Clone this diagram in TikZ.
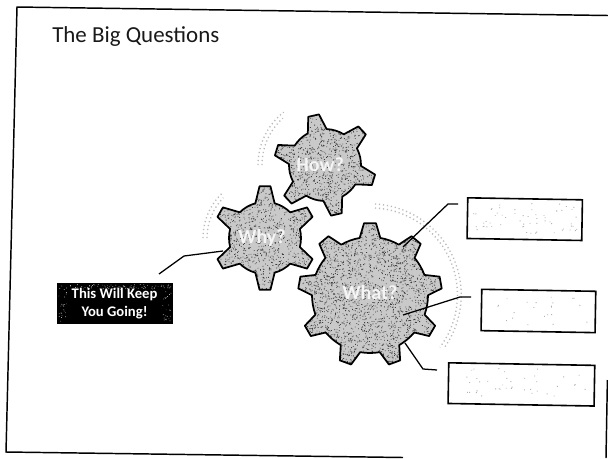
\documentclass[tikz,border=0pt]{standalone}
\usepackage{fontspec}
\setmainfont{Carlito}
\tikzset{
  x=0.75pt,y=-0.75pt,
  geartext/.style={text=white!92!gray,font=\bfseries\fontsize{15}{16}\selectfont,inner sep=0pt},
  halo/.style={draw=gray!55,line width=1pt,dash pattern=on 0.9pt off 2.1pt},
  link/.style={draw=black,line width=0.95pt,line join=round},
  emptybox/.style={draw=black,line width=1.2pt,fill=white,inner sep=0pt,anchor=north west,rotate=-1},
  blackbox/.style={draw=black,fill=black,text=white,inner sep=0pt,anchor=north west,align=center,font=\bfseries\fontsize{11}{13.5}\selectfont},
  frameline/.style={draw=black,line width=1.1pt,line join=miter},
}
\pgfmathsetseed{4242}
% #1 cx, #2 cy, #3 outer, #4 root, #5 teeth, #6 first angle, #7 tip half-width, #8 number of specks
\newcommand{\gearoutline}[8]{%
  \pgfmathsetmacro{\gstep}{360/#5}%
  \pgfmathsetmacro{\gtipa}{atan(#7/#3)}%
  \pgfmathsetmacro{\gbasea}{atan((#7+4.5)/#4)}%
  \pgfmathtruncatemacro{\glast}{#5-1}%
  \gdef\gearp{}%
  \foreach \gi in {0,...,\glast}{%
    \pgfmathsetmacro{\ga}{#6+\gi*\gstep}%
    \pgfmathsetmacro{\gnext}{\ga+\gstep}%
    \pgfmathsetmacro{\gb}{\ga-\gbasea}\pgfmathsetmacro{\gc}{\ga-\gtipa}%
    \pgfmathsetmacro{\gd}{\ga+\gtipa}\pgfmathsetmacro{\ge}{\ga+\gbasea}%
    \pgfmathsetmacro{\gf}{\gnext-\gbasea}%
    \xdef\gearp{\gearp
      \ifnum\gi>0 -- \else\fi ({#1+#4*cos(\gb)},{#2-#4*sin(\gb)})
      -- ({#1+#3*cos(\gc)},{#2-#3*sin(\gc)})
      -- ({#1+#3*cos(\gd)},{#2-#3*sin(\gd)})
      -- ({#1+#4*cos(\ge)},{#2-#4*sin(\ge)})
      arc[start angle=-\ge,end angle=-\gf,radius=#4]}%
  }%
  \begin{scope}
    \clip \gearp -- cycle;
    \fill[gray!42] (#1-#3,#2-#3) rectangle (#1+#3,#2+#3);
    \fill[black!75] foreach \gk in {1,...,#8}
      {({#1-#3+2*#3*rnd},{#2-#3+2*#3*rnd}) rectangle ++(0.8,0.8)};
  \end{scope}
  \path[draw=black,line width=1.3pt,line join=round] \gearp -- cycle;
}
% #1 x0 #2 y0 #3 w #4 h #5 count: faint specks inside a box
\newcommand{\specks}[5]{%
  \fill[gray!60] foreach \gk in {1,...,#5}
    {({#1+#3*rnd},{#2+#4*rnd}) rectangle ++(0.9,0.9)};
}
\begin{document}
\begin{tikzpicture}
\useasboundingbox (0,0) rectangle (608,458);
\fill[white] (0,0) rectangle (608,458);
% slide frame (scanned slightly askew)
\coordinate (ftr) at (608,15.5);
\coordinate (ftl) at (17,7);
\coordinate (fbl) at (6,452);
\coordinate (fbr) at (403,457.5);
\coordinate (frt) at (607.4,380);
\coordinate (frb) at (606,458);
\draw[frameline] (ftr) -- (ftl) -- (fbl) -- (fbr);
\draw[frameline] (frt) -- (frb);
\node[anchor=base west,inner sep=0pt,font=\fontsize{17.2}{19}\selectfont,text=black!90] (title) at (52,42) {The Big Questions};
% halos
\draw[halo] (258,165) arc[start angle=-180,end angle=-128,radius=67];
\draw[halo] (262,165) arc[start angle=-180,end angle=-132,radius=63];
\draw[halo] (203,238) arc[start angle=-180,end angle=-132,radius=62];
\draw[halo] (207,238) arc[start angle=-180,end angle=-136,radius=58];
\draw[halo] (375,208) arc[start angle=-87,end angle=37,radius=87];
\draw[halo] (375,204) arc[start angle=-87,end angle=35,radius=91];
% gears
\gearoutline{325}{165}{51}{36}{6}{43}{5.5}{1500}
\gearoutline{265}{238}{52}{36}{6}{30}{5.5}{1500}
\gearoutline{370}{295}{72}{58}{9}{10}{6}{3200}
\node[geartext] (how) at (320,165) {How?};
\node[geartext] (why) at (262,238) {Why?};
\node[geartext] (what) at (370,293) {What?};
% boxes
\node[blackbox,minimum width=86pt,minimum height=30pt] (keep) at (57,283) {This Will Keep\\You Going!};
\fill[gray!70] foreach \gk in {1,...,90} {({58+113*rnd},{284+5*rnd}) rectangle ++(0.7,0.7)};
\fill[gray!70] foreach \gk in {1,...,25} {({58+9*rnd},{289+32*rnd}) rectangle ++(0.7,0.7)};
\fill[gray!70] foreach \gk in {1,...,25} {({162+9*rnd},{289+32*rnd}) rectangle ++(0.7,0.7)};
\node[emptybox,minimum width=86pt,minimum height=30.5pt] (b1) at (467,197) {};
\node[emptybox,minimum width=85.5pt,minimum height=31pt] (b2) at (481,288.5) {};
\node[emptybox,minimum width=109.5pt,minimum height=30.5pt] (b3) at (448,362) {};
\specks{473}{203}{104}{30}{60}
\specks{488}{295}{102}{30}{22}
\specks{455}{368}{134}{28}{40}
% connectors
\coordinate (k0) at (159,274);
\coordinate (w0) at (223,251);
\draw[link] (k0) -- (184,256) -- (w0);
\coordinate (e1) at (458,204);
\coordinate (g1) at (403,247);
\draw[link] (e1) -- (448,204) -- (g1);
\coordinate (e2) at (471,297);
\coordinate (g2) at (403,315);
\draw[link] (e2) -- (460,297) -- (g2);
\coordinate (e3) at (437,370);
\coordinate (g3) at (405,343);
\draw[link] (e3) -- (423,369) -- (g3);
\end{tikzpicture}
\end{document}
